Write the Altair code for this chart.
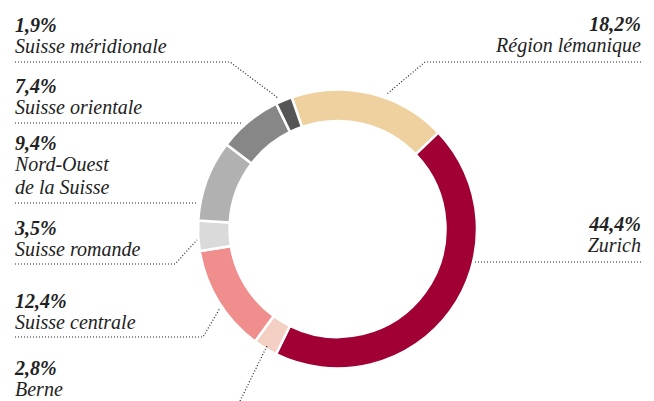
import math
import altair as alt
import pandas as pd

# ---- data ----
regions = ["Région lémanique", "Zurich", "Berne", "Suisse centrale",
           "Suisse romande", "Nord-Ouest de la Suisse", "Suisse orientale",
           "Suisse méridionale"]
shares = [18.2, 44.4, 2.8, 12.4, 3.5, 9.4, 7.4, 1.9]
names = ["Région lémanique", "Zurich", "Berne", "Suisse centrale",
         "Suisse romande", "Nord-Ouest\nde la Suisse", "Suisse orientale",
         "Suisse méridionale"]
colors = ["#EFD19F", "#A00034", "#F4D0C4", "#F08E8E",
          "#D9DAD9", "#B1B1B2", "#878787", "#555555"]

# ---- label layout (plot pixel coordinates) ----
side = ["right", "right", "left", "left", "left", "left", "left", "left"]
label_x = [633, 633, 7, 7, 7, 7, 7, 7]
label_y = [23, 223, 367, 300, 227, 142, 85, 24]
leaders = [
    [(633, 54), (417, 54), (379, 86)],
    [(467, 254), (633, 254)],
    [(232, 393), (259, 338)],
    [(7, 329), (195, 329), (212, 300)],
    [(7, 256), (167, 256), (189, 232)],
    [(7, 195), (190, 195)],
    [(7, 115), (235, 115)],
    [(7, 54), (222, 54), (270, 90)],
]

df = pd.DataFrame({
    "idx": list(range(len(regions))),
    "region": regions,
    "share": shares,
    "pct": [f"{v:.1f}%".replace(".", ",") for v in shares],
    "name": names,
    "side": side,
    "lx": label_x,
    "ly": label_y,
})
df["ny"] = df["ly"] + 21

rows = []
for r, pts in zip(regions, leaders):
    for i, (px, py) in enumerate(pts):
        rows.append({"region": r, "pt": i, "x": px, "y": py})
lines_df = pd.DataFrame(rows)

start = -0.335
arc = alt.Chart(df).mark_arc(
    innerRadius=108, outerRadius=139.5, stroke="white", strokeWidth=2.5
).encode(
    theta=alt.Theta("share:Q", stack=True,
                    scale=alt.Scale(domain=[0, 100],
                                    range=[start, 2 * math.pi + start])),
    color=alt.Color("region:N", scale=alt.Scale(domain=regions, range=colors),
                    legend=None),
    order=alt.Order("idx:Q"),
    x=alt.value(329.5),
    y=alt.value(221),
)

lines = alt.Chart(lines_df).mark_line(
    strokeDash=[1, 2], strokeWidth=1.2, color="#222222"
).encode(
    x=alt.X("x:Q", scale=None, axis=None),
    y=alt.Y("y:Q", scale=None, axis=None),
    detail="region:N",
    order="pt:Q",
)

FONT = "Liberation Serif"
layers = [arc, lines]
for s in ["left", "right"]:
    base = alt.Chart(df).transform_filter(alt.datum.side == s)
    pct = base.mark_text(
        align=s, baseline="alphabetic", font=FONT, fontSize=20,
        fontStyle="italic", fontWeight="bold", color="#222222"
    ).encode(
        x=alt.X("lx:Q", scale=None, axis=None),
        y=alt.Y("ly:Q", scale=None, axis=None),
        text="pct:N",
    )
    nm = base.mark_text(
        align=s, baseline="alphabetic", font=FONT, fontSize=20,
        fontStyle="italic", color="#222222", lineBreak="\n", lineHeight=23
    ).encode(
        x=alt.X("lx:Q", scale=None, axis=None),
        y=alt.Y("ny:Q", scale=None, axis=None),
        text="name:N",
    )
    layers += [pct, nm]

chart = alt.layer(*layers).properties(
    width=638, height=385, padding=0
).configure_view(stroke=None)

chart.save("out.html", embed_options={"renderer": "svg", "actions": False})
